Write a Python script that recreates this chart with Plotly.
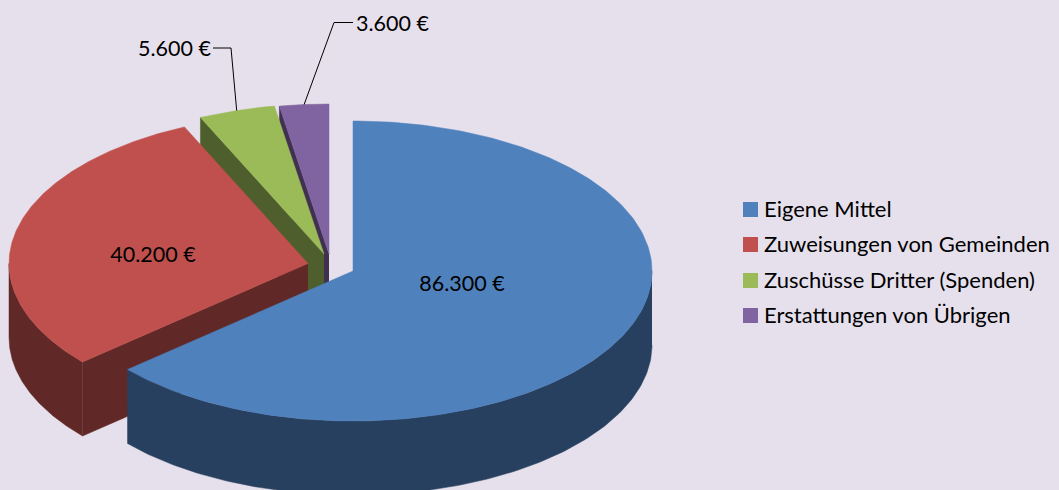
import numpy as np
import plotly.graph_objects as go

categories = ["Eigene Mittel", "Zuweisungen von Gemeinden", "Zuschüsse Dritter (Spenden)", "Erstattungen von Übrigen"]
values = [86300, 40200, 5600, 3600]
value_labels = ["86.300 €", "40.200 €", "5.600 €", "3.600 €"]
top_colors = ["#4F81BD", "#C0504D", "#9BBB59", "#8064A2"]
wall_colors = ["#28405F", "#602826", "#4E5E2C", "#403151"]
apex_x = [353, 308, 324, 329]
apex_y = [271, 263.5, 254, 254]

BG = "#E6E0EC"
RX, RY, DEPTH = 299, 150, 74
FONT = "Lato"
FS_VALUE = 21.5
FS_LEGEND = 22

total = sum(values)
bounds = np.concatenate([[0], np.cumsum(values)]) / total * 2 * np.pi


def rim(i, a):
    return apex_x[i] + RX * np.sin(a), apex_y[i] - RY * np.cos(a)


fig = go.Figure()


def poly(xs, ys, color):
    fig.add_trace(go.Scatter(x=list(xs), y=list(ys), mode="lines", fill="toself", fillcolor=color,
                             line=dict(color=color, width=0.5), hoverinfo="skip", showlegend=False))


# back to front: purple, green, red, blue
for i in [3, 2, 1, 0]:
    a0, a1 = bounds[i], bounds[i + 1]
    cx, cy = apex_x[i], apex_y[i]
    # radial wall facing the viewer (leading edge of the slice)
    if i in (1, 2, 3):
        rx0, ry0 = rim(i, a0)
        poly([cx, rx0, rx0, cx], [cy, ry0, ry0 + DEPTH, cy + DEPTH], wall_colors[i])
    # outer curved wall, front half only
    lo, hi = max(a0, np.pi / 2), min(a1, 3 * np.pi / 2)
    if hi > lo:
        t = np.linspace(lo, hi, 160)
        x, y = rim(i, t)
        poly(np.r_[x, x[::-1]], np.r_[y, (y + DEPTH)[::-1]], wall_colors[i])
    # top face
    t = np.linspace(a0, a1, 240)
    x, y = rim(i, t)
    poly(np.r_[cx, x, cx], np.r_[cy, y, cy], top_colors[i])

# leader lines for the two small slices
elbows = [(None, None), (None, None), (231, 48), (334, 22.5)]
ends = [(None, None), (None, None), (213, 48), (353, 22.5)]
for i in (2, 3):
    mx, my = rim(i, (bounds[i] + bounds[i + 1]) / 2)
    fig.add_trace(go.Scatter(x=[mx, elbows[i][0], ends[i][0]], y=[my, elbows[i][1], ends[i][1]], mode="lines",
                             line=dict(color="#000000", width=1), hoverinfo="skip", showlegend=False))

# value labels
label_pos = [(462, 286, "middle center"), (153, 257, "middle center"),
             (211, 51, "middle left"), (356, 26, "middle right")]
for i, (lx, ly, pos) in enumerate(label_pos):
    fig.add_trace(go.Scatter(x=[lx], y=[ly], mode="text", text=[value_labels[i]], textposition=pos,
                             textfont=dict(family=FONT, size=FS_VALUE, color="#000000"),
                             hoverinfo="skip", showlegend=False))

# legend
legend_y = [209.5, 244.5, 280.5, 315.5]
for i, name in enumerate(categories):
    fig.add_trace(go.Scatter(x=[750.5], y=[legend_y[i]], mode="markers",
                             marker=dict(symbol="square", size=15, color=top_colors[i], line=dict(width=0)),
                             hoverinfo="skip", showlegend=False))
    fig.add_trace(go.Scatter(x=[764], y=[legend_y[i] + 2], mode="text", text=[name], textposition="middle right",
                             textfont=dict(family=FONT, size=FS_LEGEND, color="#000000"),
                             hoverinfo="skip", showlegend=False))

fig.update_layout(
    width=1059, height=490, autosize=False,
    margin=dict(l=0, r=0, t=0, b=0),
    paper_bgcolor=BG, plot_bgcolor=BG,
    showlegend=False,
    xaxis=dict(range=[0, 1059], visible=False, fixedrange=True),
    yaxis=dict(range=[490, 0], visible=False, fixedrange=True),
)
fig.write_html("out.html", config=dict(displayModeBar=False),
               post_script="document.body.style.margin='0';document.documentElement.style.background='#E6E0EC';document.body.style.overflow='hidden';")
